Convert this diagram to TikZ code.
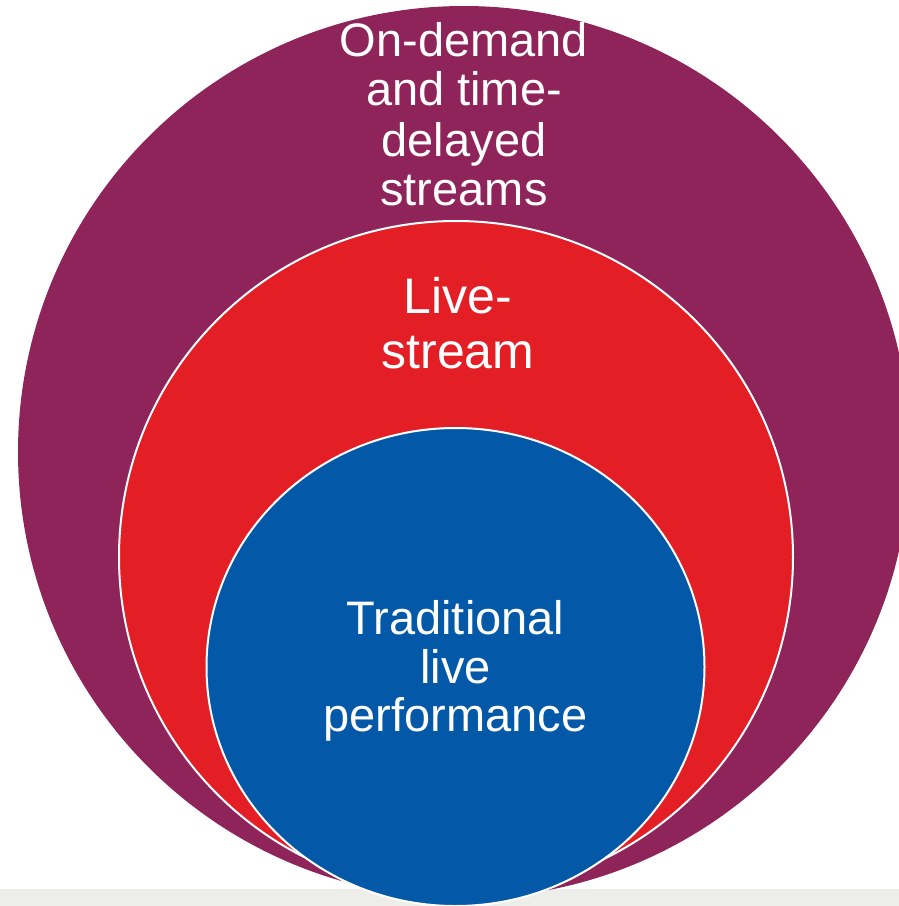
\documentclass[tikz,border=0pt]{standalone}
\usepackage{fontspec}
\setmainfont{Liberation Sans}
\definecolor{outerpurple}{RGB}{142,36,89}
\definecolor{midred}{RGB}{227,30,36}
\definecolor{innerblue}{RGB}{3,89,168}
\definecolor{bandgray}{RGB}{237,238,233}
\begin{document}
\begin{tikzpicture}[x=1pt,y=-1pt,
  ring/.style={draw=white,line width=2pt},
  lbl/.style={text=white,inner sep=0pt,anchor=base},
  outerfont/.style={font=\fontsize{47}{49.5}\selectfont},
  midfont/.style={font=\fontsize{50}{55}\selectfont},
  innerfont/.style={font=\fontsize{47}{49}\selectfont}]
\useasboundingbox (0,0) rectangle (899,906);
\clip (0,0) rectangle (899,906);
\fill[white] (0,0) rectangle (899,906);
\fill[bandgray] (0,889) rectangle (899,906);
% outer ellipse
\fill[outerpurple] (464,452) ellipse [x radius=446, y radius=446];
% middle ellipse
\filldraw[ring,fill=midred] (456,557) ellipse [x radius=337, y radius=336];
% inner ellipse
\filldraw[ring,fill=innerblue] (455.5,667) ellipse [x radius=249, y radius=239];
% labels
\node[lbl,outerfont] (o1) at (464,56.7) {On-demand};
\node[lbl,outerfont] (o2) at (464,105.5) {and time-};
\node[lbl,outerfont] (o3) at (464,156) {delayed};
\node[lbl,outerfont] (o4) at (464,205) {streams};
\node[lbl,midfont] (m1) at (458,313.3) {Live-};
\node[lbl,midfont] (m2) at (458,368.3) {stream};
\node[lbl,innerfont] (i1) at (455.5,634) {Traditional};
\node[lbl,innerfont] (i2) at (455.5,683.3) {live};
\node[lbl,innerfont] (i3) at (455.5,731.7) {performance};
\end{tikzpicture}
\end{document}
